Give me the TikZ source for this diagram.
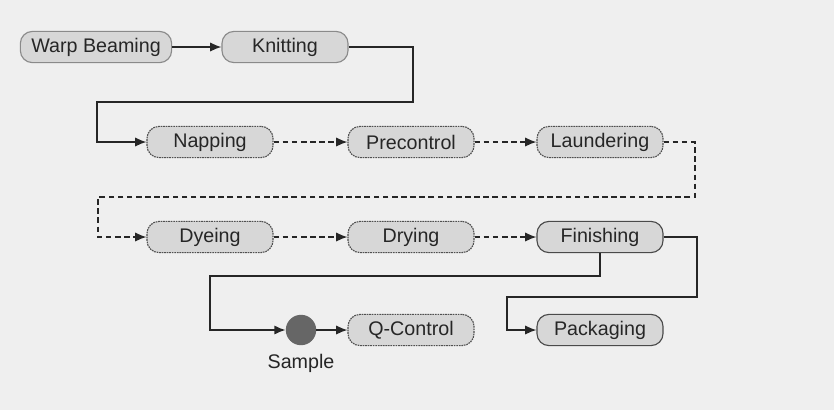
\documentclass[tikz,border=0pt]{standalone}
\usepackage{fontspec}
\setmainfont{Liberation Sans}
\usetikzlibrary{arrows.meta}

\definecolor{bggray}{HTML}{EFEFEF}
\definecolor{boxgray}{HTML}{D7D7D7}
\definecolor{edgegray}{HTML}{4A4A4A}
\definecolor{lightedge}{HTML}{8A8A8A}
\definecolor{dotgray}{HTML}{505050}

\tikzset{
    stage/.style = {draw = edgegray, fill = boxgray, line width = 0.8pt, rounded corners = 0.3cm,
        minimum width = 3.15cm, minimum height = 0.78cm, inner sep = 0pt,
        font = \fontsize{14}{16}\selectfont, text = black!85},
    firststage/.style = {stage, draw = lightedge},
    wetstage/.style = {stage, draw = dotgray, dash pattern = on 1.2pt off 0.6pt},
    flow/.style = {->, draw = black!85, line width = 1pt},
    wetflow/.style = {flow, dash pattern = on 4pt off 2.5pt}
}

\begin{document}
\begin{tikzpicture}[x = 0.025cm, y = -0.025cm, >={Latex[length=2.8mm, width=2.3mm]}]
    \fill [bggray] (0, 0) rectangle (834, 410);
    \useasboundingbox (0, 0) rectangle (834, 410);

    \node [firststage, minimum width = 3.78cm] (warp) at (96, 47) {Warp Beaming};
    \node [firststage] (knit) at (285, 47) {Knitting};
    \node [wetstage] (nap) at (210, 142) {Napping};
    \node [wetstage] (prec) at (411, 142) {Precontrol};
    \node [wetstage] (laund) at (600, 142) {Laundering};
    \node [wetstage] (dye) at (210, 237) {Dyeing};
    \node [wetstage] (dry) at (411, 237) {Drying};
    \node [stage] (fin) at (600, 237) {Finishing};
    \node [circle, fill = black!60, minimum size = 0.76cm, inner sep = 0pt] (samp) at (301, 330) {};
    \node [below = 3pt, font = \fontsize{14}{16}\selectfont, text = black!85] (samplab) at (samp.south) {Sample};
    \node [wetstage] (qc) at (411, 330) {Q-Control};
    \node [stage] (pack) at (600, 330) {Packaging};

    \draw [flow] (warp) -- (knit);
    \draw [flow] (knit.east) -| (413, 102) -| (97, 142) -- (nap.west);
    \draw [wetflow] (nap) -- (prec);
    \draw [wetflow] (prec) -- (laund);
    \draw [wetflow] (laund.east) -| (695, 197) -| (98, 237) -- (dye.west);
    \draw [wetflow] (dye) -- (dry);
    \draw [wetflow] (dry) -- (fin);
    \draw [flow] (fin.south) |- (210, 276) |- (samp.west);
    \draw [flow] (samp) -- (qc);
    \draw [flow] (fin.east) -| (697, 297) -| (507, 330) -- (pack.west);
\end{tikzpicture}
\end{document}
